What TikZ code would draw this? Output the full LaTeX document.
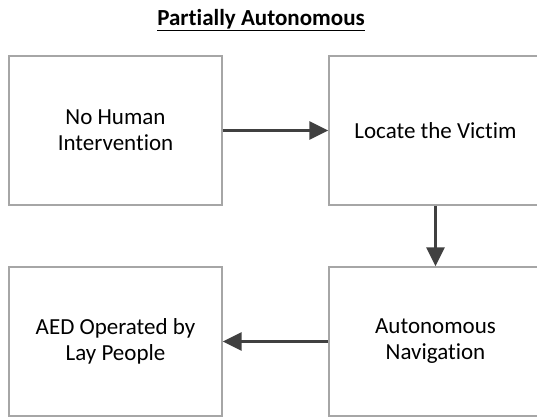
\documentclass[tikz,border=0pt]{standalone}
\usepackage{fontspec}
\setmainfont[Ligatures=NoCommon]{Carlito}
\usepackage{tikz}
\usetikzlibrary{arrows.meta}
\definecolor{boxgray}{HTML}{A6A6A6}
\definecolor{arrowgray}{HTML}{404040}

\begin{document}
\begin{tikzpicture}[x=1pt, y=1pt,
  box/.style={draw=boxgray, line width=1.3pt, minimum width=213pt, minimum height=149pt,
    align=center, inner sep=0pt, font=\fontsize{23}{26}\selectfont},
  flow/.style={-{Triangle[length=19pt, width=18pt]}, line width=2.8pt, arrowgray}]
  \useasboundingbox (0,0) rectangle (537,419);
  % title
  \node (title) at (261,399) {\fontsize{23}{26}\selectfont\underline{\textbf{Partially Autonomous}}};
  % boxes
  \node[box] (nohuman) at (115.5,288.5) {No Human\\Intervention};
  \node[box] (locate) at (435.5,288.5) {Locate the Victim};
  \node[box] (navig) at (435.5,77.5) {Autonomous\\Navigation};
  \node[box] (aed) at (115.5,77.5) {AED Operated by\\Lay People};
  % flow
  \draw[flow] (nohuman.east) -- (locate.west);
  \draw[flow] (locate.south) -- (navig.north);
  \draw[flow] (navig.west) -- (aed.east);
\end{tikzpicture}
\end{document}
